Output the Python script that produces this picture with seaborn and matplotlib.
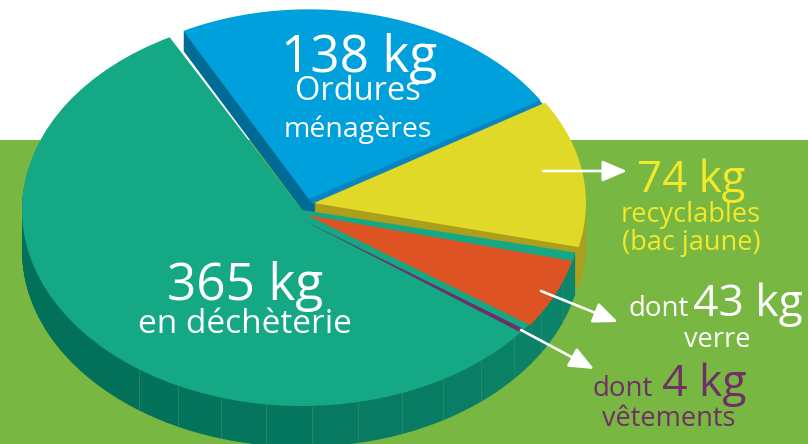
import matplotlib
matplotlib.use('Agg')
import matplotlib.pyplot as plt
import numpy as np
import seaborn as sns

# angular spans, in degrees (hand drawn, so not quite kg-proportional)
slice_names = ['ordures', 'recyclables', 'decheterie', 'verre', 'vetements']
slice_spans = [86.2, 45.2, 229.3, 21.3, 1.2]
slice_starts = [117.6, 31.8, -12.5, -13.9, -35.2]
slice_radii = [271, 272, 280, 273, 276]
slice_tips = [(309, 199), (314, 203), (302, 210), (307, 215), (297, 217)]

kg_labels = ['138 kg', '74 kg', '365 kg', '43 kg', '4 kg']
rim_panels = [116.1] + [9.43] * 12

SQUASH = 0.7
DEPTH = 41

BLUE, BLUE_DARK, BLUE_MID = '#00a0dc', '#006c95', '#0a84c0'
YELLOW, YELLOW_DARK = '#e0d927', '#ad9f1c'
TEAL = '#14a984'
ORANGE = '#dd5323'
PURPLE = '#6e3066'
GRASS = '#79b743'
YELLOW_TEXT = '#f3e92a'
NO_EDGE = dict(linewidth=0, edgecolor='none')

sns.set_theme(style='white')
plt.rcParams['font.family'] = ['Open Sans', 'DejaVu Sans']


def to_data(x, y):
    # picture pixels (y down) to axes units, where one y unit is SQUASH pixels
    return x, (444 - y) / SQUASH


def wedge(ax, i, color, dx=0, dy=0):
    tip = slice_tips[i]
    ax.pie([slice_spans[i], 360 - slice_spans[i]],
           startangle=slice_starts[i],
           counterclock=False,
           colors=[color, 'none'],
           radius=slice_radii[i],
           center=to_data(tip[0] + dx, tip[1] + dy),
           wedgeprops=NO_EDGE)


def stack(ax, i, color, depth):
    for d in range(depth, 0, -1):
        wedge(ax, i, color, dy=d)


def rim(ax):
    tip = slice_tips[2]
    start = slice_starts[2] - slice_spans[2]
    colors = sns.blend_palette(['#03705a', '#0c8569'], len(rim_panels)) + ['none']
    sizes = rim_panels + [360 - sum(rim_panels)]
    for d in range(DEPTH, 0, -1):
        ax.pie(sizes,
               startangle=start,
               colors=colors,
               radius=slice_radii[2],
               center=to_data(tip[0], tip[1] + d),
               wedgeprops=NO_EDGE)

    # faint seams between the panels of the side wall
    angles = np.radians(start + np.cumsum(rim_panels)[:-1])
    x0, y0 = to_data(*tip)
    xs = x0 + slice_radii[2] * np.cos(angles)
    ys = y0 + slice_radii[2] * np.sin(angles)
    ax.vlines(xs, ys - DEPTH / SQUASH, ys, color='#2f8f68', lw=0.5, zorder=1.5)


def arrow(ax, start, end):
    ax.annotate('', xy=to_data(*end), xytext=to_data(*start), zorder=5,
                arrowprops=dict(arrowstyle='-|>,head_length=0.75,head_width=0.32',
                                color='white', lw=1.9, mutation_scale=20,
                                shrinkA=0, shrinkB=0))


def label(ax, x, y, text, size, color='white', ha='center'):
    ax.text(*to_data(x, y), text, fontsize=size, color=color, ha=ha,
            va='baseline', zorder=6)


fig = plt.figure(figsize=(8.08, 4.44), dpi=100)
ax = fig.add_axes([0, 0, 1, 1])

stack(ax, 0, BLUE_DARK, 20)
wedge(ax, 0, BLUE_MID, dx=3.5, dy=5)
wedge(ax, 0, BLUE)
stack(ax, 1, YELLOW_DARK, 40)
wedge(ax, 1, YELLOW)
rim(ax)
wedge(ax, 2, TEAL)
wedge(ax, 3, ORANGE)
wedge(ax, 4, PURPLE)

ax.axhspan(0, 304 / SQUASH, color=GRASS, lw=0, zorder=0)

ax.set_aspect('auto')
ax.set_xlim(0, 808)
ax.set_ylim(0, 444 / SQUASH)
ax.axis('off')

arrow(ax, (543, 171), (627, 171))
arrow(ax, (541, 291), (618, 322))
arrow(ax, (521, 330), (594, 369))

label(ax, 359, 72, kg_labels[0], 37)
label(ax, 358, 100, 'Ordures', 23.5)
label(ax, 358, 137, 'ménagères', 20.5)

label(ax, 245, 300, kg_labels[2], 37)
label(ax, 245, 333, 'en déchèterie', 24)

label(ax, 691, 192, kg_labels[1], 31.5, YELLOW_TEXT)
label(ax, 691, 222, 'recyclables', 19.5, YELLOW_TEXT)
label(ax, 691, 250, '(bac jaune)', 19.5, YELLOW_TEXT)

label(ax, 628, 316, 'dont', 20, ha='left')
label(ax, 693, 316, kg_labels[3], 32, ha='left')
label(ax, 717, 347, 'verre', 19.5)

label(ax, 592, 396, 'dont', 20, PURPLE, ha='left')
label(ax, 662, 396, kg_labels[4], 32, PURPLE, ha='left')
label(ax, 669, 426, 'vêtements', 19.5, PURPLE)

fig.savefig('out.png', dpi=100)
